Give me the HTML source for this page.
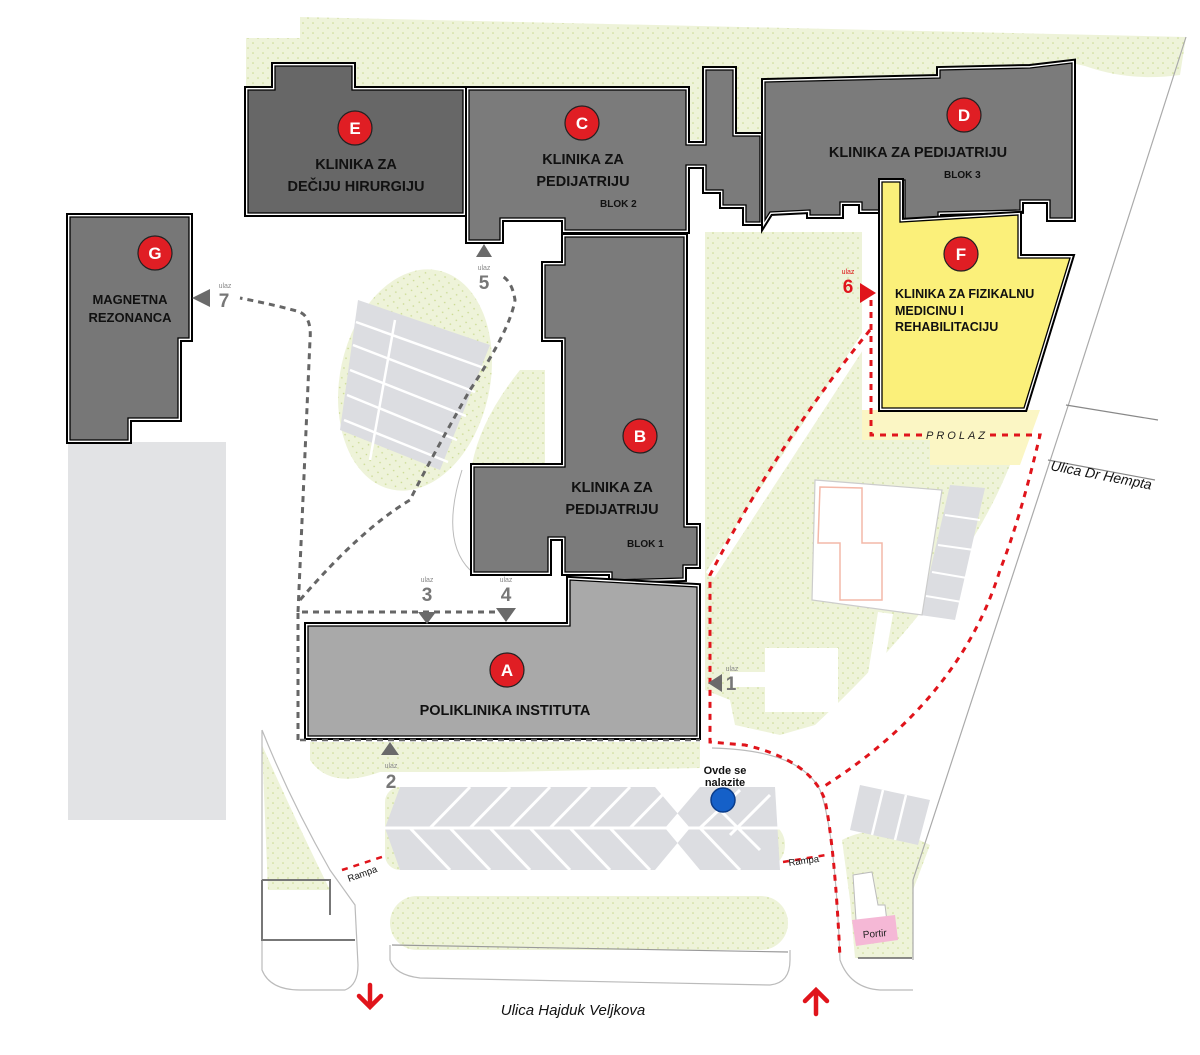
<!DOCTYPE html>
<html><head><meta charset="utf-8"><style>
html,body{margin:0;padding:0;background:#fff;}
svg{display:block;}
text{font-family:"Liberation Sans",sans-serif;}
.lbl{font-weight:bold;font-size:14.5px;fill:#111;text-anchor:middle;}
.blk{font-weight:bold;font-size:10px;fill:#111;}
.num{font-weight:bold;font-size:19px;fill:#777;text-anchor:middle;}
.ulaz{font-size:7px;fill:#888;text-anchor:middle;}
.circ{font-weight:bold;font-size:17px;fill:#fff;text-anchor:middle;}
</style></head><body>
<svg width="1200" height="1055" viewBox="0 0 1200 1055" xmlns="http://www.w3.org/2000/svg">
<defs>
<pattern id="g" width="10" height="10" patternUnits="userSpaceOnUse">
<rect width="10" height="10" fill="#eef3d9"/><circle cx="3" cy="3" r="0.8" fill="#c9d98f"/><circle cx="8" cy="8" r="0.8" fill="#c9d98f"/>
</pattern>
</defs>

<!-- green areas -->
<path d="M246,38 L300,38 L300,17 L1186,37 L1180,75 Q1130,82 1085,66 L1072,63 L1072,100 L765,100 L765,140 L690,140 L690,100 L246,100 Z" fill="url(#g)"/>
<path d="M705,232 L862,232 L862,440 L930,440 L930,465 L1010,465 Q960,590 815,725 L780,735 L735,725 L730,700 L705,690 Z" fill="url(#g)"/>
<path d="M862,410 L1040,410 L1020,465 L930,465 L930,440 L862,440 Z" fill="#fbf6c4"/>
<path d="M878,612 L893,614 L872,735 L858,735 Z" fill="#fff"/>
<path d="M842,840 Q880,820 930,845 L913,890 L913,958 L855,958 L850,900 Z" fill="url(#g)"/>
<ellipse cx="415" cy="380" rx="75" ry="112" transform="rotate(12 415 380)" fill="url(#g)"/>
<path d="M520,370 L545,370 L545,465 L472,465 Q480,420 520,370 Z" fill="url(#g)"/>
<path d="M310,742 L700,742 L700,768 Q600,770 500,772 L380,772 Q330,790 310,760 Z" fill="url(#g)"/>
<path d="M262,745 L268,890 L330,890 Q300,830 262,745 Z" fill="url(#g)"/>
<rect x="390" y="896" width="398" height="54" rx="27" fill="url(#g)"/>
<rect x="385" y="787" width="30" height="83" rx="15" fill="url(#g)"/>
<rect x="735" y="820" width="50" height="50" rx="25" fill="url(#g)"/>

<!-- roads / thin lines -->
<path d="M1186,37 L1070,400 L913,880 L913,960" fill="none" stroke="#aaa" stroke-width="1.2"/>
<path d="M1066,405 L1158,420 M1048,460 L1155,480" stroke="#888" stroke-width="1.2"/>
<path d="M262,730 L262,970 Q270,990 300,990 L345,990 Q358,985 358,965 L355,905 L330,870 Q290,800 262,730" fill="none" stroke="#bbb" stroke-width="1.2"/>
<path d="M262,880 L330,880 L330,915 M262,880 L262,940 L355,940" fill="none" stroke="#777" stroke-width="2"/>
<path d="M390,945 L390,960 Q395,975 420,978 L770,985 Q790,983 790,960 L790,950" fill="none" stroke="#bbb" stroke-width="1.2"/>
<path d="M392,945 L788,952" stroke="#999" stroke-width="1.2"/>
<path d="M712,748 Q800,750 820,790 Q835,830 840,960 Q850,988 880,990 L913,990" fill="none" stroke="#bbb" stroke-width="1.2"/>
<path d="M462,470 Q440,540 470,570" fill="none" stroke="#bbb" stroke-width="1"/>

<!-- gray block left -->
<rect x="68" y="442" width="158" height="378" fill="#e2e3e5"/>

<!-- parking lots -->
<polygon points="358,300 490,345 440,470 340,430" fill="#dcdde1"/>
<g stroke="#fff" stroke-width="2.5">
<line x1="395" y1="320" x2="370" y2="460"/>
<line x1="356" y1="322" x2="484" y2="368"/><line x1="353" y1="345" x2="475" y2="392"/><line x1="350" y1="370" x2="466" y2="416"/><line x1="347" y1="395" x2="457" y2="440"/><line x1="344" y1="420" x2="448" y2="462"/>
</g>
<polygon points="400,787 775,787 780,870 400,870 385,828" fill="#dcdde1"/>
<polygon points="655,787 700,787 665,828 700,870 655,870 690,828" fill="#fff"/>
<g stroke="#fff" stroke-width="3">
<line x1="385" y1="828" x2="780" y2="828"/>
<line x1="430" y1="828" x2="470" y2="787"/><line x1="470" y1="828" x2="510" y2="787"/><line x1="510" y1="828" x2="550" y2="787"/><line x1="550" y1="828" x2="590" y2="787"/><line x1="590" y1="828" x2="630" y2="787"/><line x1="630" y1="828" x2="670" y2="787"/>
<line x1="410" y1="828" x2="450" y2="870"/><line x1="450" y1="828" x2="490" y2="870"/><line x1="490" y1="828" x2="530" y2="870"/><line x1="530" y1="828" x2="570" y2="870"/><line x1="570" y1="828" x2="610" y2="870"/><line x1="610" y1="828" x2="650" y2="870"/>
<line x1="700" y1="828" x2="740" y2="870"/><line x1="720" y1="810" x2="760" y2="850"/><line x1="700" y1="828" x2="740" y2="790"/><line x1="730" y1="835" x2="770" y2="795"/>
</g>
<polygon points="950,485 985,488 955,620 920,615" fill="#dcdde1"/>
<g stroke="#fff" stroke-width="2"><line x1="945" y1="515" x2="980" y2="520"/><line x1="938" y1="545" x2="974" y2="550"/><line x1="932" y1="572" x2="967" y2="578"/><line x1="926" y1="596" x2="962" y2="602"/></g>
<polygon points="860,785 930,800 918,845 850,830" fill="#dcdde1"/>
<g stroke="#fff" stroke-width="2.5"><line x1="883" y1="790" x2="872" y2="835"/><line x1="906" y1="795" x2="895" y2="840"/></g>

<!-- other structures -->
<polygon points="815,480 942,490 922,615 812,600" fill="#fff" stroke="#ccc" stroke-width="1.2"/>
<path d="M820,487 L862,488 L862,543 L882,543 L882,600 L840,600 L840,543 L818,543 Z" fill="none" stroke="#f4b8a8" stroke-width="1.5"/>
<rect x="765" y="648" width="73" height="64" fill="#fff"/>
<rect x="730" y="672" width="40" height="15" fill="#fff"/>
<path d="M853,875 L872,872 L878,905 L885,905 L888,930 L857,935 Z" fill="#fff" stroke="#bbb"/>
<polygon points="852,920 895,915 898,940 856,946" fill="#f5b8d6"/>
<text x="875" y="937" font-size="10" fill="#222" text-anchor="middle" transform="rotate(-5 875 937)">Portir</text>
<path d="M858,958 L912,958" stroke="#666" stroke-width="1.5"/>

<!-- buildings -->
<g stroke-linejoin="miter">
<g><path d="M248,90 L275,90 L275,66 L352,66 L352,90 L463,90 L463,213 L248,213 Z" fill="none" stroke="#000" stroke-width="8"/>
<path d="M248,90 L275,90 L275,66 L352,66 L352,90 L463,90 L463,213 L248,213 Z" fill="#676767" stroke="#fff" stroke-width="4"/>
<path d="M248,90 L275,90 L275,66 L352,66 L352,90 L463,90 L463,213 L248,213 Z" fill="#676767" stroke="#000" stroke-width="1.3"/></g>
<g><path d="M469,90 L686,90 L686,145 L706,145 L706,70 L733,70 L733,136 L760,136 L760,222 L746,222 L746,205 L723,205 L723,190 L706,190 L706,165 L686,165 L686,230 L565,230 L565,218 L500,218 L500,240 L469,240 Z" fill="none" stroke="#000" stroke-width="8"/>
<path d="M469,90 L686,90 L686,145 L706,145 L706,70 L733,70 L733,136 L760,136 L760,222 L746,222 L746,205 L723,205 L723,190 L706,190 L706,165 L686,165 L686,230 L565,230 L565,218 L500,218 L500,240 L469,240 Z" fill="#7b7b7b" stroke="#fff" stroke-width="4"/>
<path d="M469,90 L686,90 L686,145 L706,145 L706,70 L733,70 L733,136 L760,136 L760,222 L746,222 L746,205 L723,205 L723,190 L706,190 L706,165 L686,165 L686,230 L565,230 L565,218 L500,218 L500,240 L469,240 Z" fill="#7b7b7b" stroke="#000" stroke-width="1.3"/></g>
<g><path d="M765,82 L940,78 L940,70 L1030,68 L1072,63 L1072,218 L1050,218 L1050,200 L1020,200 L1020,210 L938,212 L938,222 L905,222 L905,180 L882,180 L882,210 L862,210 L862,202 L840,202 L840,215 L810,215 L810,210 L770,212 L765,220 Z" fill="none" stroke="#000" stroke-width="8"/>
<path d="M765,82 L940,78 L940,70 L1030,68 L1072,63 L1072,218 L1050,218 L1050,200 L1020,200 L1020,210 L938,212 L938,222 L905,222 L905,180 L882,180 L882,210 L862,210 L862,202 L840,202 L840,215 L810,215 L810,210 L770,212 L765,220 Z" fill="#7b7b7b" stroke="#fff" stroke-width="4"/>
<path d="M765,82 L940,78 L940,70 L1030,68 L1072,63 L1072,218 L1050,218 L1050,200 L1020,200 L1020,210 L938,212 L938,222 L905,222 L905,180 L882,180 L882,210 L862,210 L862,202 L840,202 L840,215 L810,215 L810,210 L770,212 L765,220 Z" fill="#7b7b7b" stroke="#000" stroke-width="1.3"/></g>
<g><path d="M882,182 L900,182 L900,222 L1018,215 L1018,258 L1070,258 L1024,408 L882,408 Z" fill="none" stroke="#000" stroke-width="8"/>
<path d="M882,182 L900,182 L900,222 L1018,215 L1018,258 L1070,258 L1024,408 L882,408 Z" fill="#fbf07a" stroke="#fff" stroke-width="4"/>
<path d="M882,182 L900,182 L900,222 L1018,215 L1018,258 L1070,258 L1024,408 L882,408 Z" fill="#fbf07a" stroke="#000" stroke-width="1.3"/></g>
<g><path d="M565,237 L684,237 L684,527 L697,527 L697,565 L683,565 L683,578 L612,580 L612,572 L565,572 L565,537 L548,537 L548,572 L474,572 L474,467 L565,467 L565,338 L545,338 L545,265 L565,265 Z" fill="none" stroke="#000" stroke-width="8"/>
<path d="M565,237 L684,237 L684,527 L697,527 L697,565 L683,565 L683,578 L612,580 L612,572 L565,572 L565,537 L548,537 L548,572 L474,572 L474,467 L565,467 L565,338 L545,338 L545,265 L565,265 Z" fill="#7b7b7b" stroke="#fff" stroke-width="4"/>
<path d="M565,237 L684,237 L684,527 L697,527 L697,565 L683,565 L683,578 L612,580 L612,572 L565,572 L565,537 L548,537 L548,572 L474,572 L474,467 L565,467 L565,338 L545,338 L545,265 L565,265 Z" fill="#7b7b7b" stroke="#000" stroke-width="1.3"/></g>
<g><path d="M308,626 L570,626 L570,580 L697,587 L697,736 L308,736 Z" fill="none" stroke="#000" stroke-width="8"/>
<path d="M308,626 L570,626 L570,580 L697,587 L697,736 L308,736 Z" fill="#a9a9a9" stroke="#fff" stroke-width="4"/>
<path d="M308,626 L570,626 L570,580 L697,587 L697,736 L308,736 Z" fill="#a9a9a9" stroke="#000" stroke-width="1.3"/></g>
<g><path d="M70,217 L189,217 L189,338 L178,338 L178,418 L128,418 L128,440 L70,440 Z" fill="none" stroke="#000" stroke-width="8"/>
<path d="M70,217 L189,217 L189,338 L178,338 L178,418 L128,418 L128,440 L70,440 Z" fill="#777" stroke="#fff" stroke-width="4"/>
<path d="M70,217 L189,217 L189,338 L178,338 L178,418 L128,418 L128,440 L70,440 Z" fill="#777" stroke="#000" stroke-width="1.3"/></g>
</g>

<!-- gray dashed paths -->
<g fill="none" stroke="#666" stroke-width="3" stroke-dasharray="6,5">
<path d="M298,740 L298,612 L500,612"/>
<path d="M300,740 L700,740" stroke-width="2.5"/>
<path d="M298,612 L310,340 Q312,318 300,312 Q280,306 240,298"/>
<path d="M300,600 Q360,530 410,500 Q430,460 470,390 Q510,330 515,300 Q512,280 500,275"/>
</g>

<!-- red dashed paths -->
<path d="M870,330 L710,575" stroke="#fff" stroke-width="10"/>
<g fill="none" stroke="#e0141b" stroke-width="3" stroke-dasharray="6,6">
<path d="M870,330 Q780,440 710,575 L710,742 L745,745 Q810,760 825,800 Q835,850 840,958"/>
<path d="M871,300 L871,435 L922,435"/>
<path d="M990,435 L1040,435 Q1020,520 1000,570 Q960,700 823,787"/>
<path d="M342,870 L385,856" stroke-width="2.5"/>
<path d="M783,862 L826,855" stroke-width="2.5"/>
</g>

<!-- entrance arrows -->
<g fill="#6a6a6a">
<polygon points="418,612 436,612 427,624"/><polygon points="496,608 516,608 506,622"/>
<polygon points="381,755 399,755 390,742"/>
<polygon points="708,683 722,674 722,692"/>
<polygon points="476,257 492,257 484,244"/>
<polygon points="192,298 210,289 210,307"/>
</g>
<polygon points="860,283 860,303 876,293" fill="#e0141b"/>
<text class="ulaz" x="427" y="582">ulaz</text><text class="num" x="427" y="601">3</text>
<text class="ulaz" x="506" y="582">ulaz</text><text class="num" x="506" y="601">4</text>
<text class="ulaz" x="391" y="768">ulaz</text><text class="num" x="391" y="788">2</text>
<text class="ulaz" x="732" y="671">ulaz</text><text class="num" x="731" y="690">1</text>
<text class="ulaz" x="484" y="270">ulaz</text><text class="num" x="484" y="289">5</text>
<text class="ulaz" x="225" y="288">ulaz</text><text class="num" x="224" y="307">7</text>
<text class="ulaz" x="848" y="274" style="fill:#e0141b">ulaz</text><text class="num" x="848" y="293" style="fill:#e0141b">6</text>

<!-- circles -->
<g stroke="#222" stroke-width="1.2" fill="#e01e24">
<circle cx="355" cy="128" r="17"/><circle cx="582" cy="123" r="17"/><circle cx="964" cy="115" r="17"/>
<circle cx="961" cy="254" r="17"/><circle cx="155" cy="253" r="17"/><circle cx="640" cy="436" r="17"/>
<circle cx="507" cy="670" r="17"/>
</g>
<text class="circ" x="355" y="134">E</text><text class="circ" x="582" y="129">C</text><text class="circ" x="964" y="121">D</text>
<text class="circ" x="961" y="260">F</text><text class="circ" x="155" y="259">G</text><text class="circ" x="640" y="442">B</text>
<text class="circ" x="507" y="676">A</text>

<!-- labels -->
<text class="lbl" x="356" y="169">KLINIKA ZA</text><text class="lbl" x="356" y="191">DEČIJU HIRURGIJU</text>
<text class="lbl" x="583" y="164">KLINIKA ZA</text><text class="lbl" x="583" y="186">PEDIJATRIJU</text>
<text class="blk" x="600" y="207">BLOK 2</text>
<text class="lbl" x="918" y="157">KLINIKA ZA PEDIJATRIJU</text>
<text class="blk" x="944" y="178">BLOK 3</text>
<text class="lbl" x="612" y="492">KLINIKA ZA</text><text class="lbl" x="612" y="514">PEDIJATRIJU</text>
<text class="blk" x="627" y="547">BLOK 1</text>
<text class="lbl" x="505" y="715">POLIKLINIKA INSTITUTA</text>
<text class="lbl" x="130" y="304" style="font-size:13px">MAGNETNA</text><text class="lbl" x="130" y="322" style="font-size:13px">REZONANCA</text>
<text class="lbl" x="895" y="298" style="text-anchor:start;font-size:12.5px">KLINIKA ZA FIZIKALNU</text>
<text class="lbl" x="895" y="315" style="text-anchor:start;font-size:12.5px">MEDICINU I</text>
<text class="lbl" x="895" y="331" style="text-anchor:start;font-size:12.5px">REHABILITACIJU</text>
<text x="957" y="439" font-size="11" font-style="italic" letter-spacing="3" fill="#222" text-anchor="middle">PROLAZ</text>
<text x="1050" y="470" font-size="14" font-style="italic" fill="#111" transform="rotate(11 1050 470)">Ulica Dr Hempta</text>
<text x="573" y="1015" font-size="15" font-style="italic" fill="#111" text-anchor="middle">Ulica Hajduk Veljkova</text>
<text x="349" y="882" font-size="9.5" fill="#111" transform="rotate(-20 349 882)">Rampa</text>
<text x="789" y="866" font-size="9.5" fill="#111" transform="rotate(-8 789 866)">Rampa</text>
<text x="725" y="774" font-size="11" font-weight="bold" fill="#111" text-anchor="middle">Ovde se</text>
<text x="725" y="786" font-size="11" font-weight="bold" fill="#111" text-anchor="middle">nalazite</text>
<circle cx="723" cy="800" r="12" fill="#1560c8" stroke="#0a3c8a" stroke-width="1.5"/>

<!-- red arrows -->
<g stroke="#e0141b" stroke-width="4.5" fill="none" stroke-linecap="round">
<path d="M370,985 L370,1007 M359,996 L370,1007 L381,996"/>
<path d="M816,1014 L816,990 M805,1001 L816,990 L827,1001"/>
</g>
</svg>
</body></html>
